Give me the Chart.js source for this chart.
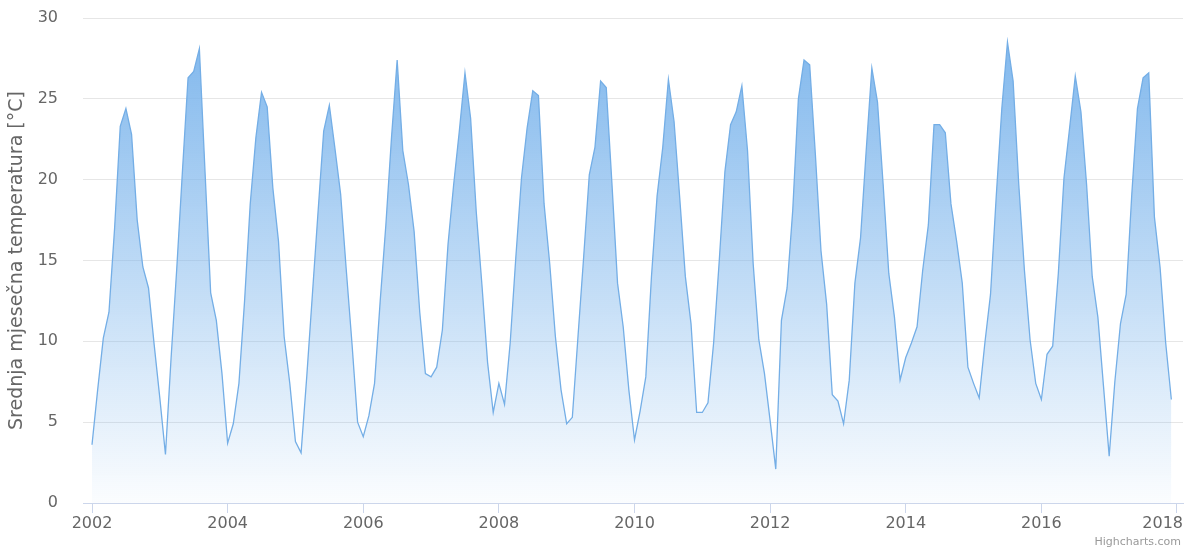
<!DOCTYPE html>
<html><head><meta charset="utf-8">
<script src="https://cdn.jsdelivr.net/npm/chart.js@4/dist/chart.umd.min.js"></script>
<style>
html,body{margin:0;padding:0;background:#fff;}
#wrap{position:relative;width:1188px;height:549px;}
#credit{position:absolute;right:7px;bottom:1px;font:11px "DejaVu Sans",sans-serif;color:#999;}
</style></head><body>
<div id="wrap"><canvas id="c" width="1188" height="549"></canvas><div id="credit">Highcharts.com</div></div>
<script>
const years = [2002,2003,2004,2005,2006,2007,2008,2009,2010,2011,2012,2013,2014,2015,2016,2017];
const t2002 = [3.6, 7.0, 10.2, 11.8, 17.0, 23.3, 24.4, 22.8, 17.5, 14.6, 13.3, 9.8];
const t2003 = [6.5, 3.0, 9.0, 14.5, 20.5, 26.3, 26.7, 28.1, 20.5, 13.0, 11.3, 8.0];
const t2004 = [3.7, 4.9, 7.4, 12.5, 18.5, 22.6, 25.4, 24.5, 19.5, 16.2, 10.3, 7.4];
const t2005 = [3.8, 3.1, 7.8, 12.9, 18.0, 23.0, 24.6, 21.9, 19.1, 14.4, 9.9, 5.0];
const t2006 = [4.1, 5.4, 7.4, 12.5, 17.2, 22.6, 27.4, 21.8, 19.7, 16.8, 11.8, 8.0];
const t2007 = [7.8, 8.4, 10.7, 16.0, 19.7, 23.0, 26.6, 23.8, 18.0, 13.5, 8.7, 5.6];
const t2008 = [7.4, 6.1, 9.9, 15.2, 20.1, 23.2, 25.5, 25.2, 18.5, 14.8, 10.3, 7.0];
const t2009 = [4.9, 5.3, 10.3, 15.2, 20.3, 22.0, 26.1, 25.7, 19.8, 13.6, 10.9, 7.0];
const t2010 = [3.9, 5.7, 7.8, 14.0, 19.0, 22.0, 26.2, 23.6, 18.9, 14.0, 11.1, 5.6];
const t2011 = [5.6, 6.2, 9.9, 15.0, 20.5, 23.4, 24.2, 25.8, 21.8, 14.8, 10.1, 8.0];
const t2012 = [5.1, 2.1, 11.3, 13.3, 18.1, 25.0, 27.4, 27.1, 21.6, 15.6, 12.3, 6.7];
const t2013 = [6.3, 4.9, 7.6, 13.6, 16.4, 21.8, 26.9, 24.8, 19.7, 14.2, 11.5, 7.6];
const t2014 = [9.0, 9.9, 10.9, 14.4, 17.2, 23.4, 23.4, 22.9, 18.5, 16.2, 13.6, 8.4];
const t2015 = [7.4, 6.5, 9.9, 12.9, 18.9, 24.4, 28.5, 26.1, 19.7, 14.4, 10.1, 7.4];
const t2016 = [6.4, 9.2, 9.7, 14.2, 20.1, 23.2, 26.4, 24.2, 19.7, 14.0, 11.5, 7.2];
const t2017 = [2.9, 7.5, 11.1, 12.9, 19.1, 24.4, 26.3, 26.6, 17.7, 14.6, 9.9, 6.4];
const xTickLabels = ['2002','2004','2006','2008','2010','2012','2014','2016','2018'];
const yTickLabels = ['0','5','10','15','20','25','30'];
const yTitle = 'Srednja mjesečna temperatura [°C]';

const yearly = [t2002,t2003,t2004,t2005,t2006,t2007,t2008,t2009,t2010,t2011,t2012,t2013,t2014,t2015,t2016,t2017];
const points = [];
years.forEach((yr, k) => yearly[k].forEach((v, m) => points.push({x: yr + m / 12, y: v})));

// keep the last x label inside the canvas (like Highcharts' label overflow justify)
const justifyLastLabel = {
  id: 'justifyLastLabel',
  beforeDraw(chart) {
    const s = chart.scales.x;
    const items = s.getLabelItems();
    if (!items.length) return;
    const last = items[items.length - 1];
    last.options.textAlign = 'right';
    last.options.translation = [s.right, last.options.translation[1]];
  }
};

const FONT = '"DejaVu Sans", sans-serif';
new Chart(document.getElementById('c'), {
  type: 'line',
  plugins: [justifyLastLabel],
  data: { datasets: [{
    data: points,
    borderColor: '#74aee6',
    borderWidth: 1.3,
    pointRadius: 0,
    tension: 0,
    fill: 'origin',
    backgroundColor: (ctx) => {
      const ch = ctx.chart, a = ch.chartArea;
      if (!a) return 'rgba(124,181,236,0.5)';
      const g = ch.ctx.createLinearGradient(0, a.top, 0, a.bottom);
      g.addColorStop(0, 'rgba(124,181,236,1)');
      g.addColorStop(1, 'rgba(124,181,236,0.03)');
      return g;
    }
  }]},
  options: {
    responsive: false,
    animation: false,
    layout: { padding: { left: 0, right: 5, top: 18, bottom: 0 } },
    plugins: { legend: { display: false }, tooltip: { enabled: false } },
    scales: {
      x: {
        type: 'linear',
        min: 2002 - 9 / 67.8,
        max: 2018 + 6 / 67.8,
        afterBuildTicks: (s) => { s.ticks = xTickLabels.map(v => ({ value: +v })); },
        afterFit: (s) => { s.height = 46; s.paddingLeft = 0; s.paddingRight = 0; },
        grid: { display: true, drawOnChartArea: false, drawTicks: true, tickLength: 10, color: '#ccd6eb' },
        border: { display: true, color: '#ccd6eb' },
        ticks: { padding: 1, color: '#666', font: { family: FONT, size: 16 }, maxRotation: 0, autoSkip: false,
          callback: (v) => String(v) }
      },
      y: {
        min: 0, max: 30,
        afterBuildTicks: (s) => { s.ticks = yTickLabels.map(v => ({ value: +v })); },
        afterFit: (s) => { s.width = 83; s.paddingTop = 0; s.paddingBottom = 0; },
        grid: { color: '#e6e6e6', drawTicks: false },
        border: { display: false },
        ticks: { padding: 25, color: '#666', font: { family: FONT, size: 16 }, callback: (v) => String(v) },
        title: { display: true, text: yTitle, color: '#666', font: { family: FONT, size: 19 }, padding: { top: 6, bottom: 0 } }
      }
    }
  }
});
</script>
</body></html>
